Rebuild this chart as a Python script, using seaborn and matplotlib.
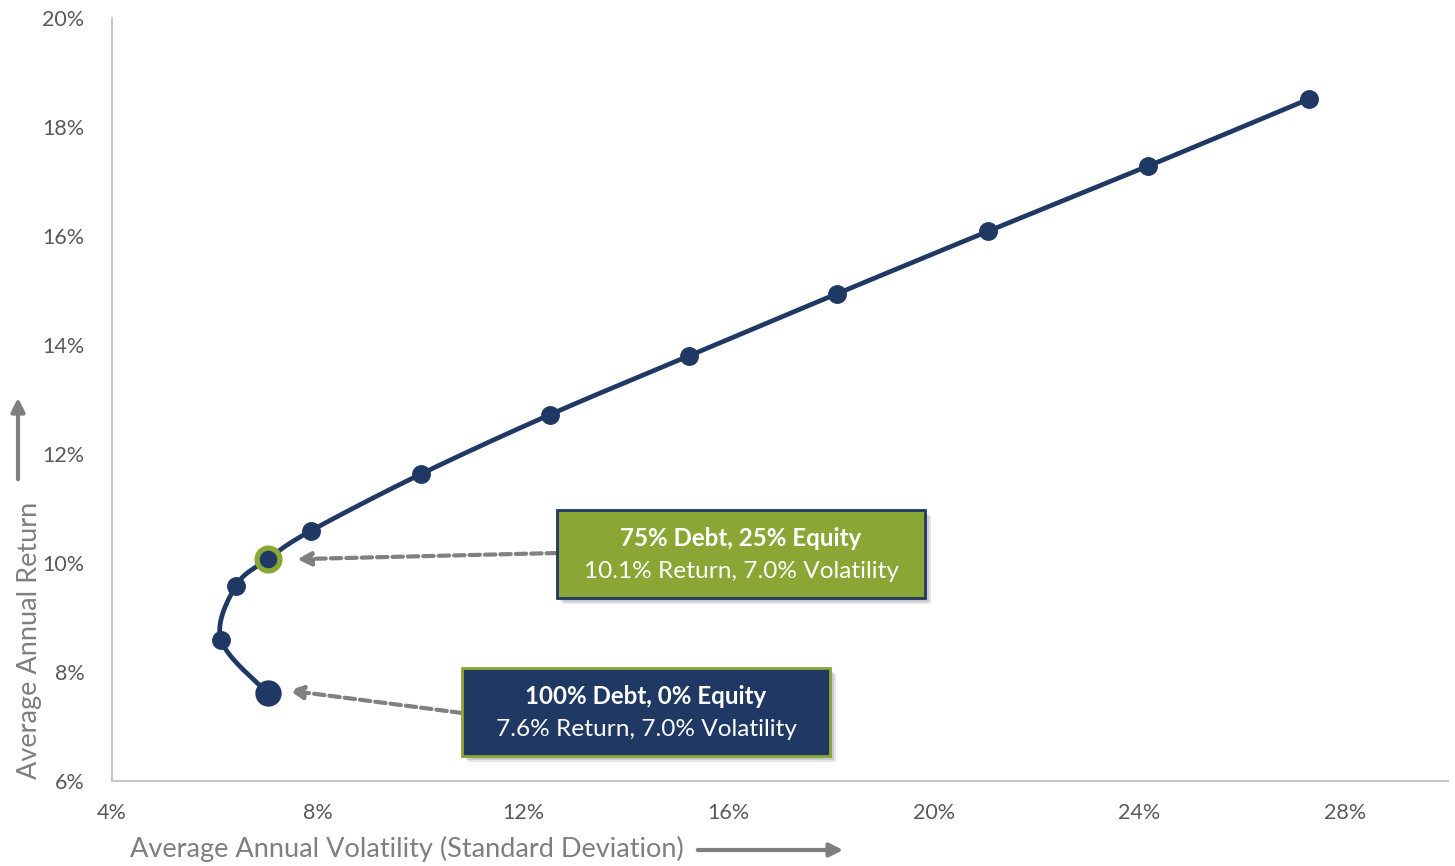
import numpy as np
import pandas as pd
import matplotlib
matplotlib.use('Agg')
import matplotlib.pyplot as plt
import seaborn as sns
from matplotlib.patches import FancyBboxPatch

# efficient frontier portfolios (100% debt -> 0% debt)
volatility = [7.03, 6.12, 6.41, 7.03, 7.87, 10.01, 12.52, 15.23, 18.11, 21.06, 24.16, 27.29]
returns = [7.61, 8.59, 9.58, 10.07, 10.59, 11.63, 12.72, 13.80, 14.94, 16.09, 17.28, 18.51]
x_ticks = [4, 8, 12, 16, 20, 24, 28]
y_ticks = [6, 8, 10, 12, 14, 16, 18, 20]

navy = '#203864'
green = '#8aa634'
grey_txt = '#595959'

sns.set_style('white')
plt.rcParams['font.family'] = ['Lato', 'DejaVu Sans']

df = pd.DataFrame({'vol': volatility, 'ret': returns})

fig = plt.figure(figsize=(14.55, 8.66), dpi=100)
ax = fig.add_axes([0.077, 0.0982, 0.918, 0.881])
ax.set_xlim(4, 30)
ax.set_ylim(6, 20)


def smooth(xs, ys, n=30):
    # catmull-rom style smoothing done in display space (like Excel's smoothed line)
    pts = ax.transData.transform(np.column_stack([xs, ys]))
    p = np.vstack([pts[0], pts, pts[-1]])
    out = []
    for i in range(1, len(p) - 2):
        p0, p1, p2, p3 = p[i - 1], p[i], p[i + 1], p[i + 2]
        t = np.linspace(0, 1, n)[:, None]
        seg = 0.5 * ((2 * p1) + (-p0 + p2) * t + (2 * p0 - 5 * p1 + 4 * p2 - p3) * t ** 2
                     + (-p0 + 3 * p1 - 3 * p2 + p3) * t ** 3)
        out.append(seg)
    out = np.vstack(out)
    return ax.transData.inverted().transform(out)


curve = smooth(df['vol'].values, df['ret'].values)
curve_df = pd.DataFrame({'vol': curve[:, 0], 'ret': curve[:, 1]})
sns.lineplot(data=curve_df, x='vol', y='ret', sort=False, estimator=None,
             color=navy, linewidth=3.4, ax=ax, zorder=2)

sns.scatterplot(data=df.iloc[[1, 2, 4, 5, 6, 7, 8, 9, 10, 11]], x='vol', y='ret',
                color=navy, s=185, edgecolor=navy, linewidth=0, ax=ax, zorder=3)
# 100% debt point (bigger)
sns.scatterplot(data=df.iloc[[0]], x='vol', y='ret', color=navy, s=360,
                linewidth=0, ax=ax, zorder=3)
# 75/25 point highlighted
sns.scatterplot(data=df.iloc[[3]], x='vol', y='ret', color=navy, s=270,
                edgecolor=green, linewidth=3.8, ax=ax, zorder=4)

ax.set_xticks(x_ticks)
ax.set_yticks(y_ticks)
ax.set_xticklabels([f'{v}%' for v in x_ticks])
ax.set_yticklabels([f'{v}%' for v in y_ticks])
ax.tick_params(axis='both', length=0, labelsize=15.5, labelcolor=grey_txt)
ax.tick_params(axis='x', pad=16)
ax.tick_params(axis='y', pad=20)
ax.set_xlabel('')
ax.set_ylabel('')
for s in ['top', 'right']:
    ax.spines[s].set_visible(False)
for s in ['left', 'bottom']:
    ax.spines[s].set_color('#c8c8c8')
    ax.spines[s].set_linewidth(1.5)

# axis titles with arrows
fig.text(0.0893, 1 - 849 / 866, 'Average Annual Volatility (Standard Deviation)', fontsize=19.5,
         color='#7f7f7f', ha='left', va='center')
fig.add_artist(matplotlib.patches.FancyArrowPatch((695 / 1455, 1 - 850 / 866), (846 / 1455, 1 - 850 / 866),
                                                  transform=fig.transFigure, arrowstyle='-|>,head_length=8,head_width=4',
                                                  color='#7f7f7f', linewidth=3, mutation_scale=1))
fig.text(0.0115, 1 - 640 / 866, 'Average Annual Return', fontsize=19.5, color='#7f7f7f',
         rotation=90, ha='left', va='center')
fig.add_artist(matplotlib.patches.FancyArrowPatch((18 / 1455, 1 - 482 / 866), (18 / 1455, 1 - 395 / 866),
                                                  transform=fig.transFigure, arrowstyle='-|>,head_length=8,head_width=4',
                                                  color='#7f7f7f', linewidth=3, mutation_scale=1))


def callout(x0, y0, x1, y1, face, edge, title, sub):
    # box given in figure pixels
    W, H = 1455, 866
    for dx, dy, a in [(6, -6, 0.10), (4, -4, 0.12), (2, -2, 0.15)]:
        fig.add_artist(FancyBboxPatch(((x0 + dx) / W, 1 - (y1 - dy) / H), (x1 - x0) / W, (y1 - y0) / H,
                                      boxstyle='square,pad=0', transform=fig.transFigure,
                                      facecolor='black', edgecolor='none', alpha=a, zorder=5))
    fig.add_artist(FancyBboxPatch((x0 / W, 1 - y1 / H), (x1 - x0) / W, (y1 - y0) / H,
                                  boxstyle='square,pad=0', transform=fig.transFigure,
                                  facecolor=face, edgecolor=edge, linewidth=2, zorder=6))
    cx = (x0 + x1) / 2 / W
    fig.text(cx, 1 - (y0 + 29) / H, title, color='white', fontsize=17.4, fontweight='bold',
             ha='center', va='center', zorder=7)
    fig.text(cx, 1 - (y0 + 61) / H, sub, color='white', fontsize=17.6,
             ha='center', va='center', zorder=7)


callout(557, 510, 925, 598, green, navy, '75% Debt, 25% Equity', '10.1% Return, 7.0% Volatility')
callout(462, 668, 830, 756, navy, green, '100% Debt, 0% Equity', '7.6% Return, 7.0% Volatility')

# dashed pointers from boxes to points
ax.annotate('', xy=(7.6, df['ret'][3]), xycoords='data',
            xytext=(557 / 1455, 1 - 553 / 866), textcoords='figure fraction',
            arrowprops=dict(arrowstyle='-|>,head_length=0.8,head_width=0.4', color='#808080',
                            linewidth=3, linestyle=(0, (2.5, 1.2)), shrinkA=0, shrinkB=0), zorder=4)
ax.annotate('', xy=(7.45, df['ret'][0] + 0.05), xycoords='data',
            xytext=(462 / 1455, 1 - 713 / 866), textcoords='figure fraction',
            arrowprops=dict(arrowstyle='-|>,head_length=0.8,head_width=0.4', color='#808080',
                            linewidth=3, linestyle=(0, (2.5, 1.2)), shrinkA=0, shrinkB=0), zorder=4)

fig.savefig('out.png', dpi=100)
